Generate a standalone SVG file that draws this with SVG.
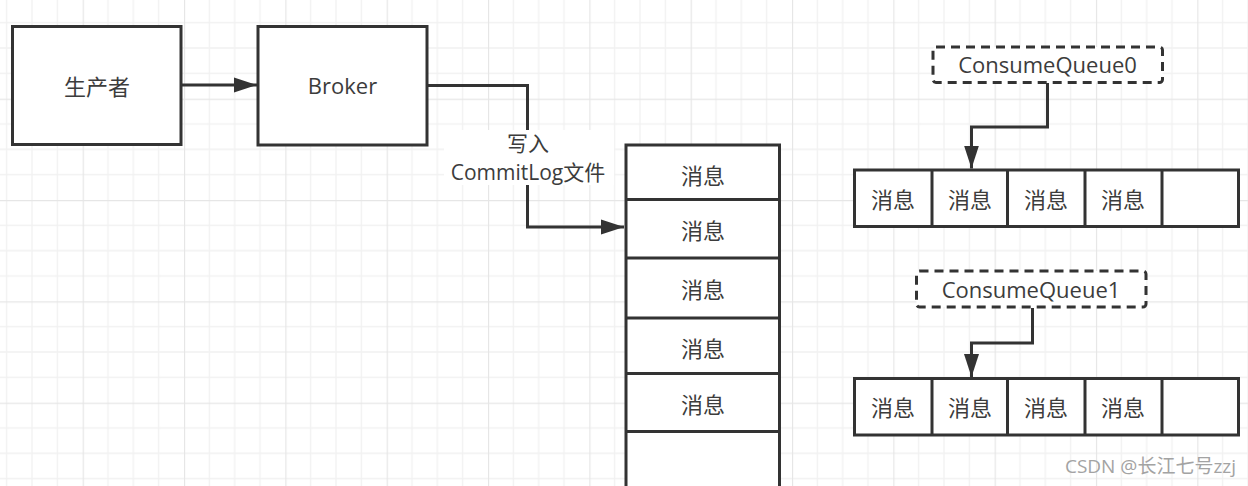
<svg xmlns="http://www.w3.org/2000/svg" width="1248" height="486" viewBox="0 0 1248 486">
  <style>
    .box { fill: #ffffff; stroke: #333333; stroke-width: 3; }
    .dash { fill: #ffffff; stroke: #333333; stroke-width: 3; stroke-dasharray: 9 6; }
    .cell { fill: none; stroke: #333333; stroke-width: 3; }
    .txt { font-family: "Open Sans", "Noto Sans CJK SC", sans-serif; font-size: 22px; fill: #3c3c3c; text-anchor: middle; dominant-baseline: central; }
    .lbl { font-size: 21px; }
    .conn { fill: none; stroke: #333333; stroke-width: 3; }
    .wm { font-family: "Open Sans", "Noto Sans CJK SC", sans-serif; font-size: 19px; fill: #a3a3a3; text-anchor: end; }
  </style>
  <defs>
    <pattern id="grid" patternUnits="userSpaceOnUse" x="82.67" y="200" width="101.33" height="101.33">
      <g stroke="#f1f1f1" stroke-width="1.3">
        <line x1="25.33" y1="0" x2="25.33" y2="101.33"/>
        <line x1="50.67" y1="0" x2="50.67" y2="101.33"/>
        <line x1="76" y1="0" x2="76" y2="101.33"/>
        <line x1="0" y1="25.33" x2="101.33" y2="25.33"/>
        <line x1="0" y1="50.67" x2="101.33" y2="50.67"/>
        <line x1="0" y1="76" x2="101.33" y2="76"/>
      </g>
      <g stroke="#e6e6e6" stroke-width="1.3">
        <line x1="0.5" y1="0" x2="0.5" y2="101.33"/>
        <line x1="0" y1="0.5" x2="101.33" y2="0.5"/>
      </g>
    </pattern>
    <marker id="arrow" markerUnits="userSpaceOnUse" markerWidth="24" markerHeight="16" refX="23" refY="8" orient="auto">
      <path d="M0,0.5 L23,8 L0,15.5 Z" fill="#333333"/>
    </marker>
  </defs>

  <rect x="0" y="0" width="1248" height="486" fill="#ffffff"/>
  <rect x="0" y="0" width="1248" height="486" fill="url(#grid)"/>

  <g id="connectors">
    <path class="conn" d="M181,85 L257,85" marker-end="url(#arrow)"/>
    <path class="conn" d="M427,85.5 L527.5,85.5 L527.5,227 L624,227" marker-end="url(#arrow)"/>
    <path class="conn" d="M1047.5,83 L1047.5,127 L971.5,127 L971.5,168.5" marker-end="url(#arrow)"/>
    <path class="conn" d="M1032.5,308 L1032.5,343 L971.5,343 L971.5,377" marker-end="url(#arrow)"/>
    <g id="label-commitlog">
      <rect x="444" y="130" width="170" height="55" fill="#ffffff"/>
      <text class="txt lbl" x="528" y="143">写入</text>
      <text class="txt lbl" x="528" y="172">CommitLog文件</text>
    </g>
  </g>

  <g id="producer">
    <rect class="box" x="12.5" y="26.5" width="168.5" height="118"/>
    <text class="txt" x="97" y="86">生产者</text>
  </g>

  <g id="broker">
    <rect class="box" x="258" y="26.5" width="169" height="118.5"/>
    <text class="txt" x="342.5" y="85">Broker</text>
  </g>

  <g id="commitlog">
    <rect class="box" x="626" y="145" width="153.5" height="380"/>
    <line class="cell" x1="626" y1="199.5" x2="779.5" y2="199.5"/>
    <line class="cell" x1="626" y1="258" x2="779.5" y2="258"/>
    <line class="cell" x1="626" y1="318" x2="779.5" y2="318"/>
    <line class="cell" x1="626" y1="373.5" x2="779.5" y2="373.5"/>
    <line class="cell" x1="626" y1="431.5" x2="779.5" y2="431.5"/>
    <text class="txt" x="703" y="175">消息</text>
    <text class="txt" x="703" y="230">消息</text>
    <text class="txt" x="703" y="289">消息</text>
    <text class="txt" x="703" y="348">消息</text>
    <text class="txt" x="703" y="404">消息</text>
  </g>

  <g id="consumequeue0">
    <rect class="dash" x="933" y="47" width="229.5" height="35.5" rx="3"/>
    <text class="txt" x="1047.5" y="64">ConsumeQueue0</text>
  </g>

  <g id="queue0">
    <rect class="box" x="854.5" y="170" width="384" height="56.5"/>
    <line class="cell" x1="932" y1="170" x2="932" y2="226.5"/>
    <line class="cell" x1="1007.5" y1="170" x2="1007.5" y2="226.5"/>
    <line class="cell" x1="1085" y1="170" x2="1085" y2="226.5"/>
    <line class="cell" x1="1162" y1="170" x2="1162" y2="226.5"/>
    <text class="txt" x="893" y="199">消息</text>
    <text class="txt" x="970" y="199">消息</text>
    <text class="txt" x="1046" y="199">消息</text>
    <text class="txt" x="1123" y="199">消息</text>
  </g>

  <g id="consumequeue1">
    <rect class="dash" x="916.5" y="271" width="229.5" height="36" rx="3"/>
    <text class="txt" x="1031" y="289">ConsumeQueue1</text>
  </g>

  <g id="queue1">
    <rect class="box" x="854.5" y="378.5" width="384" height="56.5"/>
    <line class="cell" x1="932" y1="378.5" x2="932" y2="435"/>
    <line class="cell" x1="1007.5" y1="378.5" x2="1007.5" y2="435"/>
    <line class="cell" x1="1085" y1="378.5" x2="1085" y2="435"/>
    <line class="cell" x1="1162" y1="378.5" x2="1162" y2="435"/>
    <text class="txt" x="893" y="407">消息</text>
    <text class="txt" x="970" y="407">消息</text>
    <text class="txt" x="1046" y="407">消息</text>
    <text class="txt" x="1123" y="407">消息</text>
  </g>

  <text class="wm" x="1236" y="473">CSDN @长江七号zzj</text>
</svg>
